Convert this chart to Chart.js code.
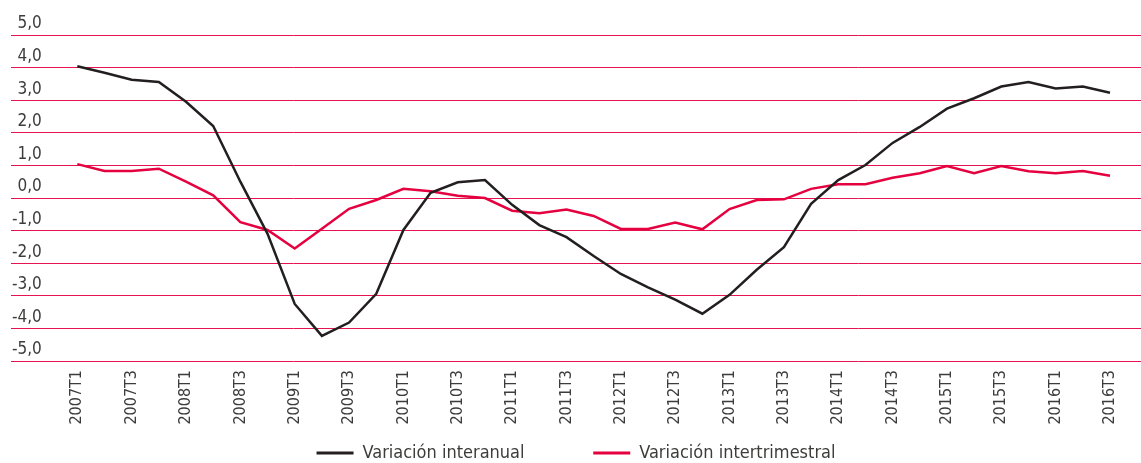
<!DOCTYPE html>
<html>
<head>
<meta charset="utf-8">
<script src="https://cdn.jsdelivr.net/npm/chart.js@4"></script>
<style>
  html, body { margin: 0; padding: 0; background: #fff; }
  #wrap { width: 1141px; height: 463px; }
</style>
</head>
<body>
<div id="wrap"><canvas id="chartPib"></canvas></div>
<script>
// === Datos ===
const trimestres = [
  '2007T1','2007T2','2007T3','2007T4','2008T1','2008T2','2008T3','2008T4',
  '2009T1','2009T2','2009T3','2009T4','2010T1','2010T2','2010T3','2010T4',
  '2011T1','2011T2','2011T3','2011T4','2012T1','2012T2','2012T3','2012T4',
  '2013T1','2013T2','2013T3','2013T4','2014T1','2014T2','2014T3','2014T4',
  '2015T1','2015T2','2015T3','2015T4','2016T1','2016T2','2016T3'
];
const interanual = [
  4.04, 3.84, 3.63, 3.56, 2.95, 2.21, 0.50, -1.10,
  -3.25, -4.23, -3.82, -2.94, -0.98, 0.16, 0.48, 0.55,
  -0.21, -0.83, -1.20, -1.78, -2.33, -2.74, -3.12, -3.55,
  -2.97, -2.20, -1.51, -0.18, 0.55, 1.01, 1.69, 2.18,
  2.74, 3.06, 3.42, 3.56, 3.36, 3.42, 3.23
];
const intertrimestral = [
  1.04, 0.83, 0.83, 0.90, 0.50, 0.08, -0.74, -0.98,
  -1.55, -0.94, -0.33, -0.06, 0.28, 0.21, 0.07, 0.00,
  -0.39, -0.47, -0.35, -0.55, -0.95, -0.95, -0.75, -0.96,
  -0.34, -0.06, -0.04, 0.28, 0.42, 0.42, 0.62, 0.76,
  0.98, 0.76, 0.98, 0.82, 0.76, 0.83, 0.68
];
// etiquetas visibles del eje X: un trimestre de cada dos
const indicesEtiquetas = trimestres.map((t, i) => i).filter(i => i % 2 === 0);

const fuente = "'DejaVu Sans Condensed', 'Liberation Sans', sans-serif";
const gris = '#3c3c3b';

const aPuntos = serie => serie.map((v, i) => ({ x: i, y: v }));

// === Gráfico de líneas - Variación del PIB ===
const ctx = document.getElementById('chartPib');
new Chart(ctx, {
  type: 'line',
  data: {
    datasets: [{
      label: 'Variación interanual',
      data: aPuntos(interanual),
      borderColor: '#231f20',
      backgroundColor: '#231f20',
      borderWidth: 2.5,
      pointRadius: 0,
      tension: 0
    }, {
      label: 'Variación intertrimestral',
      data: aPuntos(intertrimestral),
      borderColor: '#e5003f',
      backgroundColor: '#e5003f',
      borderWidth: 2.5,
      pointRadius: 0,
      tension: 0
    }]
  },
  options: {
    responsive: true,
    maintainAspectRatio: false,
    animation: false,
    layout: { padding: { left: 11, right: 0, top: 35, bottom: -9 } },
    scales: {
      x: {
        type: 'linear',
        min: -2.44,
        max: 39.14,
        grid: { display: false },
        border: { display: false },
        afterBuildTicks: scale => {
          scale.ticks = indicesEtiquetas.map(i => ({ value: i }));
        },
        afterFit: scale => { scale.height = 76; },
        ticks: {
          autoSkip: false,
          minRotation: 90,
          maxRotation: 90,
          padding: 1,
          color: gris,
          font: { family: fuente, size: 16 },
          callback: v => trimestres[v]
        }
      },
      y: {
        min: -5,
        max: 5,
        afterFit: scale => { scale.width = 0; },
        grid: { color: '#e5134f', lineWidth: 1, drawTicks: false },
        border: { display: false },
        ticks: {
          stepSize: 1,
          mirror: true,
          crossAlign: 'far',
          padding: 1,
          labelOffset: -11,
          color: gris,
          font: { family: fuente, size: 17 },
          callback: v => v.toFixed(1).replace('.', ',').replace('-0,0', '0,0')
        }
      }
    },
    plugins: {
      legend: {
        position: 'bottom',
        labels: {
          boxWidth: 37,
          boxHeight: 3,
          padding: 7,
          color: gris,
          font: { family: fuente, size: 18 },
          generateLabels: chart => Chart.defaults.plugins.legend.labels.generateLabels(chart)
            .map((item, i) => Object.assign(item, {
              lineWidth: 0,
              text: i === 0 ? item.text + ' '.repeat(12) : item.text
            }))
        }
      },
      tooltip: { enabled: false }
    }
  }
});
</script>
</body>
</html>
